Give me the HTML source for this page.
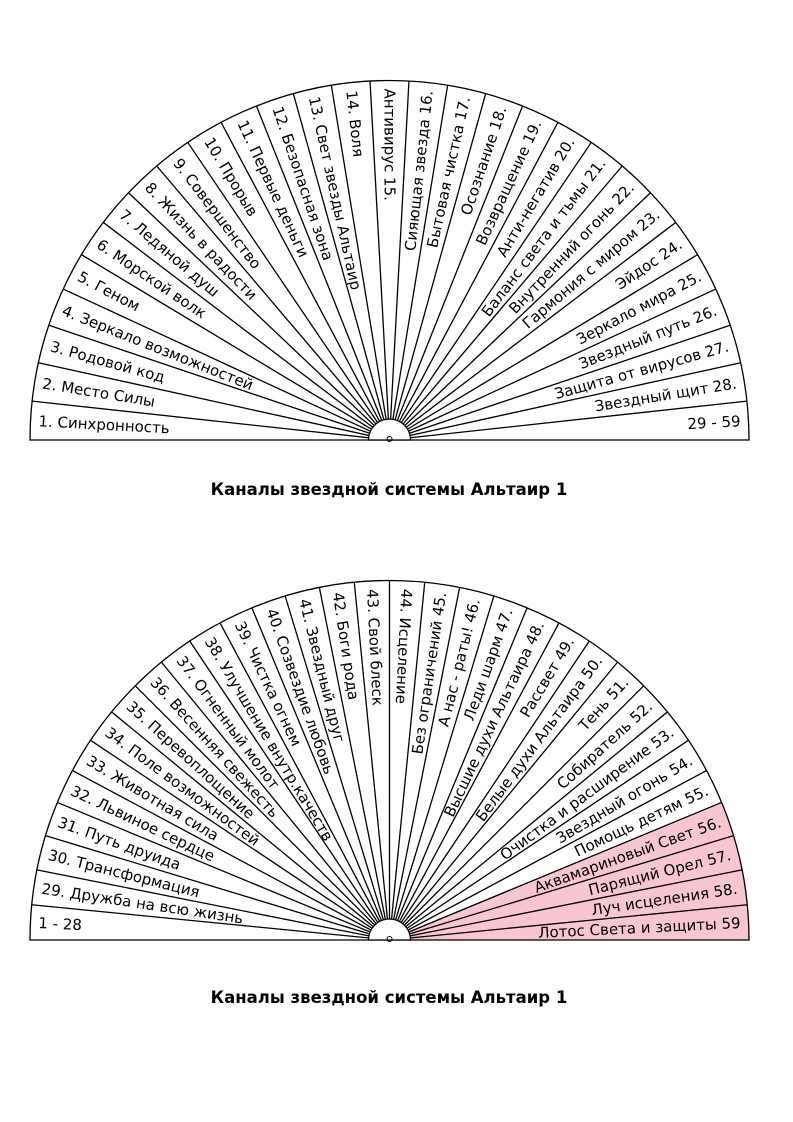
<!DOCTYPE html>
<html><head><meta charset="utf-8"><style>
html,body{margin:0;padding:0;background:#fff}
svg{display:block}
text{font-family:"DejaVu Sans","Liberation Sans",sans-serif;font-size:15px;fill:#000}
.t{font-family:"DejaVu Sans",sans-serif;font-weight:bold;font-size:16.5px}
</style></head><body>
<svg id="s" width="793" height="1122" viewBox="0 0 793 1122" xmlns="http://www.w3.org/2000/svg">
<text class="t" x="389" y="495" text-anchor="middle">Каналы звездной системы Альтаир 1</text>
<text class="t" x="389" y="1003" text-anchor="middle">Каналы звездной системы Альтаир 1</text>
</svg>
<script>
var NS="http://www.w3.org/2000/svg",S=document.getElementById('s');
function el(n,a,t){var e=document.createElementNS(NS,n);for(var k in a)e.setAttribute(k,a[k]);if(t)e.textContent=t;S.appendChild(e);return e;}
function fan(cx,cy,R,labels,pink){
 var N=labels.length,d=Math.PI/N;
 function P(r,a){return [cx-r*Math.cos(a),cy-r*Math.sin(a)];}
 for(var k=0;k<N;k++){
  if(pink.indexOf(k)>=0){var a=P(R,k*d),b=P(R,(k+1)*d);
   el('path',{d:'M'+cx+' '+cy+'L'+a[0]+' '+a[1]+'A'+R+' '+R+' 0 0 1 '+b[0]+' '+b[1]+'Z',fill:'#f7c6d0'});}
 }
 el('path',{d:'M'+(cx-R)+' '+cy+'A'+R+' '+R+' 0 0 1 '+(cx+R)+' '+cy+'Z',fill:'none',stroke:'#000','stroke-width':1.3});
 for(var k=1;k<N;k++){var p=P(R,k*d);el('line',{x1:cx,y1:cy,x2:p[0],y2:p[1],stroke:'#000','stroke-width':1.3});}
 el('path',{d:'M'+(cx-21)+' '+cy+'A21 21 0 0 1 '+(cx+21)+' '+cy+'Z',fill:'#fff',stroke:'#000','stroke-width':1.2});
 el('circle',{cx:cx,cy:cy-1,r:2.5,fill:'none',stroke:'#000','stroke-width':1});
 for(var k=0;k<N;k++){
  var m=(k+0.5)*d,deg=m*180/Math.PI,p=P(R-8,m);
  if(deg<=93){
   el('text',{x:0,y:0,dy:'0.35em','text-anchor':'start',transform:'translate('+p[0]+','+p[1]+') rotate('+deg+')'},labels[k]);
  }else{
   el('text',{x:0,y:0,dy:'0.35em','text-anchor':'end',transform:'translate('+p[0]+','+p[1]+') rotate('+(deg-180)+')'},labels[k]);
  }
 }
}
var labelsTop=["1. Синхронность","2. Место Силы","3. Родовой код","4. Зеркало возможностей","5. Геном","6. Морской волк","7. Ледяной душ","8. Жизнь в радости","9. Совершенство","10. Прорыв","11. Первые деньги","12. Безопасная зона","13. Свет звезды Альтаир","14. Воля","Антивирус 15.","Сияющая звезда 16.","Бытовая чистка 17.","Осознание 18.","Возвращение 19.","Анти-негатив 20.","Баланс света и тьмы 21.","Внутренний огонь 22.","Гармония с миром 23.","Эйдос 24.","Зеркало мира  25.","Звездный путь 26.","Защита от вирусов 27.","Звездный щит 28.","29 - 59"];
var labelsBot=["1 - 28","29. Дружба на всю жизнь","30. Трансформация","31. Путь друида","32. Львиное сердце","33. Животная сила","34. Поле возможностей","35. Перевоплощение","36. Весенняя свежесть","37. Огненный молот","38. Улучшение внутр.качеств","39. Чистка огнем","40. Созвездие любовь","41. Звездный друг","42. Боги рода","43. Свой блеск","44. Исцеление","Без ограничений 45.","А нас - раты! 46.","Леди шарм 47.","Высшие духи Альтаира 48.","Рассвет 49.","Белые духи Альтаира 50.","Тень 51.","Собиратель 52.","Очистка и расширение 53.","Звездный огонь 54.","Помощь детям 55.","Аквамариновый Свет 56.","Парящий Орел 57.","Луч исцеления 58.","Лотос Света и защиты 59"];
fan(389.5,440,359.5,labelsTop,[]);
fan(389.5,940,359.5,labelsBot,[28,29,30,31]);
</script>
</body></html>
